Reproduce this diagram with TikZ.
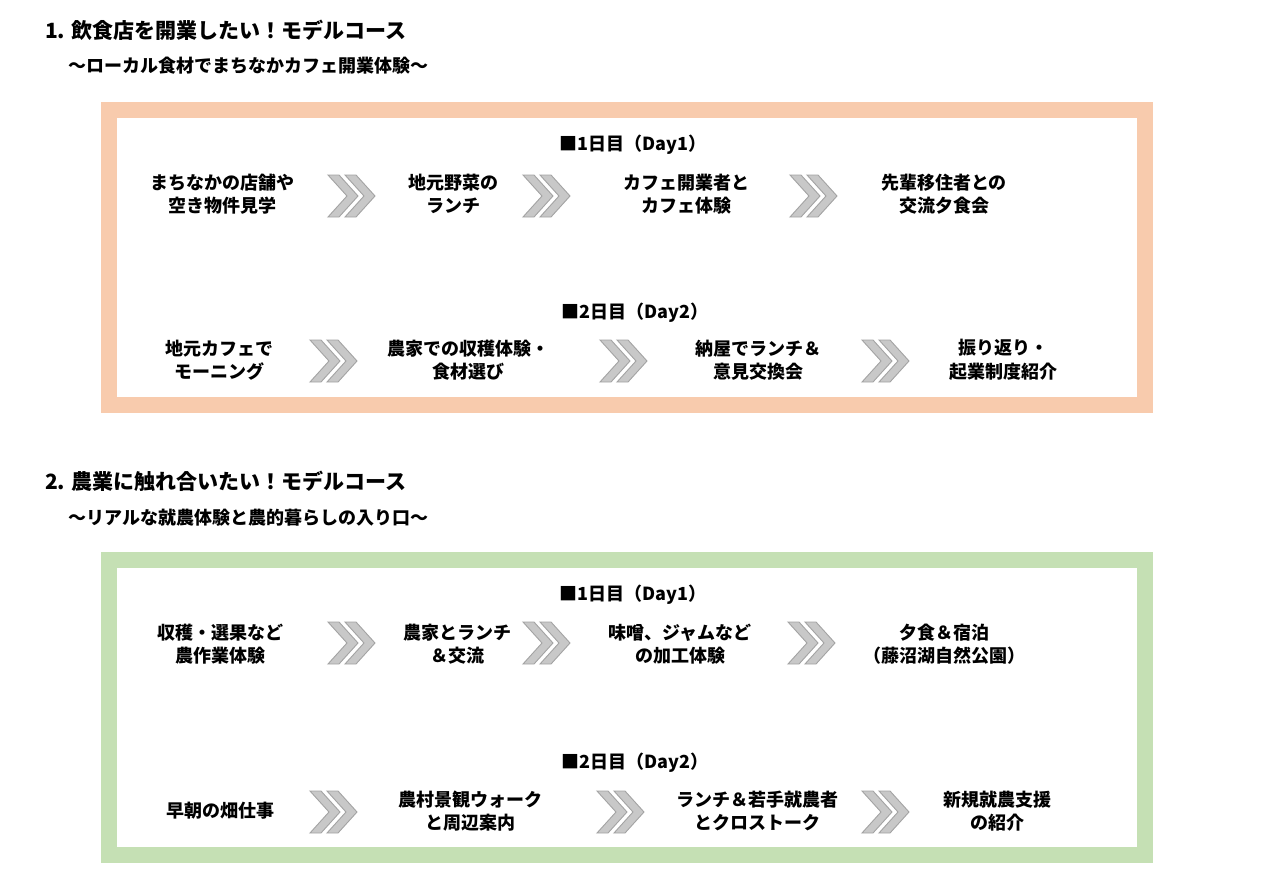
\documentclass[tikz,border=0pt]{standalone}
\usepackage{fontspec}
\setmainfont{Noto Sans CJK JP}
\definecolor{frameorange}{HTML}{F8CBAD}
\definecolor{framegreen}{HTML}{C5E0B4}
\definecolor{chevfill}{HTML}{C8C8C8}
\definecolor{chevline}{HTML}{A3A3A3}
\tikzset{
  chev/.pic={
    \foreach \dx in {0,17}{
      \filldraw[fill=chevfill, draw=chevline, line width=0.9pt, line join=miter]
        (\dx,-21) -- (\dx+11,-21) -- (\dx+30,0) -- (\dx+11,21) -- (\dx,21) -- (\dx+19,0) -- cycle;
    }
  },
  stepbox/.style={align=center, inner sep=0pt, font=\bfseries\fontsize{18}{23.5}\selectfont},
  daylabel/.style={inner sep=0pt, font=\bfseries\fontsize{18}{22}\selectfont},
  headline/.style={anchor=west, inner sep=0pt, font=\bfseries\fontsize{21}{25}\selectfont},
  subline/.style={anchor=west, inner sep=0pt, font=\bfseries\fontsize{18}{22}\selectfont},
  frameline/.style={line width=16pt}
}
\begin{document}
\begin{tikzpicture}[x=1pt,y=-1pt]
\useasboundingbox[fill=white] (0,0) rectangle (1280,886);

% ===== Section 1 =====
\node[headline] (h1) at (45,30) {1. 飲食店を開業したい！モデルコース};
\node[subline] (s1) at (68,66) {〜ローカル食材でまちなかカフェ開業体験〜};
\draw[frameline, draw=frameorange] (109,110) rectangle (1145,405);

\node[daylabel] (d11) at (633,145) {■1日目（Day1）};
\node[stepbox] (a1) at (222,194) {まちなかの店舗や\\空き物件見学};
\node[stepbox] (a2) at (453,194) {地元野菜の\\ランチ};
\node[stepbox] (a3) at (686,194) {カフェ開業者と\\カフェ体験};
\node[stepbox] (a4) at (944,194) {先輩移住者との\\交流夕食会};
\pic at (328,196) {chev};
\pic at (523,196) {chev};
\pic at (790,196) {chev};

\node[daylabel] (d12) at (635,313) {■2日目（Day2）};
\node[stepbox] (b1) at (219,360) {地元カフェで\\モーニング};
\node[stepbox] (b2) at (468,360) {農家での収穫体験・\\食材選び};
\node[stepbox] (b3) at (758,360) {納屋でランチ＆\\意見交換会};
\node[stepbox] (b4) at (1003,360) {振り返り・\\起業制度紹介};
\pic at (310,361) {chev};
\pic at (600,361) {chev};
\pic at (862,361) {chev};

% ===== Section 2 =====
\node[headline] (h2) at (45,481) {2. 農業に触れ合いたい！モデルコース};
\node[subline] (s2) at (68,518) {〜リアルな就農体験と農的暮らしの入り口〜};
\draw[frameline, draw=framegreen] (109,560) rectangle (1145,855);

\node[daylabel] (d21) at (633,595) {■1日目（Day1）};
\node[stepbox] (c1) at (220,644) {収穫・選果など\\農作業体験};
\node[stepbox] (c2) at (457,644) {農家とランチ\\＆交流};
\node[stepbox] (c3) at (680,644) {味噌、ジャムなど\\の加工体験};
\node[stepbox] (c4) at (944,644) {夕食＆宿泊\\（藤沼湖自然公園）};
\pic at (328,643) {chev};
\pic at (523,643) {chev};
\pic at (788,643) {chev};

\node[daylabel] (d22) at (635,763) {■2日目（Day2）};
\node[stepbox] (e1) at (220,811) {早朝の畑仕事};
\node[stepbox] (e2) at (470,811) {農村景観ウォーク\\と周辺案内};
\node[stepbox] (e3) at (757,811) {ランチ＆若手就農者\\とクロストーク};
\node[stepbox] (e4) at (997,811) {新規就農支援\\の紹介};
\pic at (310,812) {chev};
\pic at (597,812) {chev};
\pic at (862,812) {chev};
\end{tikzpicture}
\end{document}
